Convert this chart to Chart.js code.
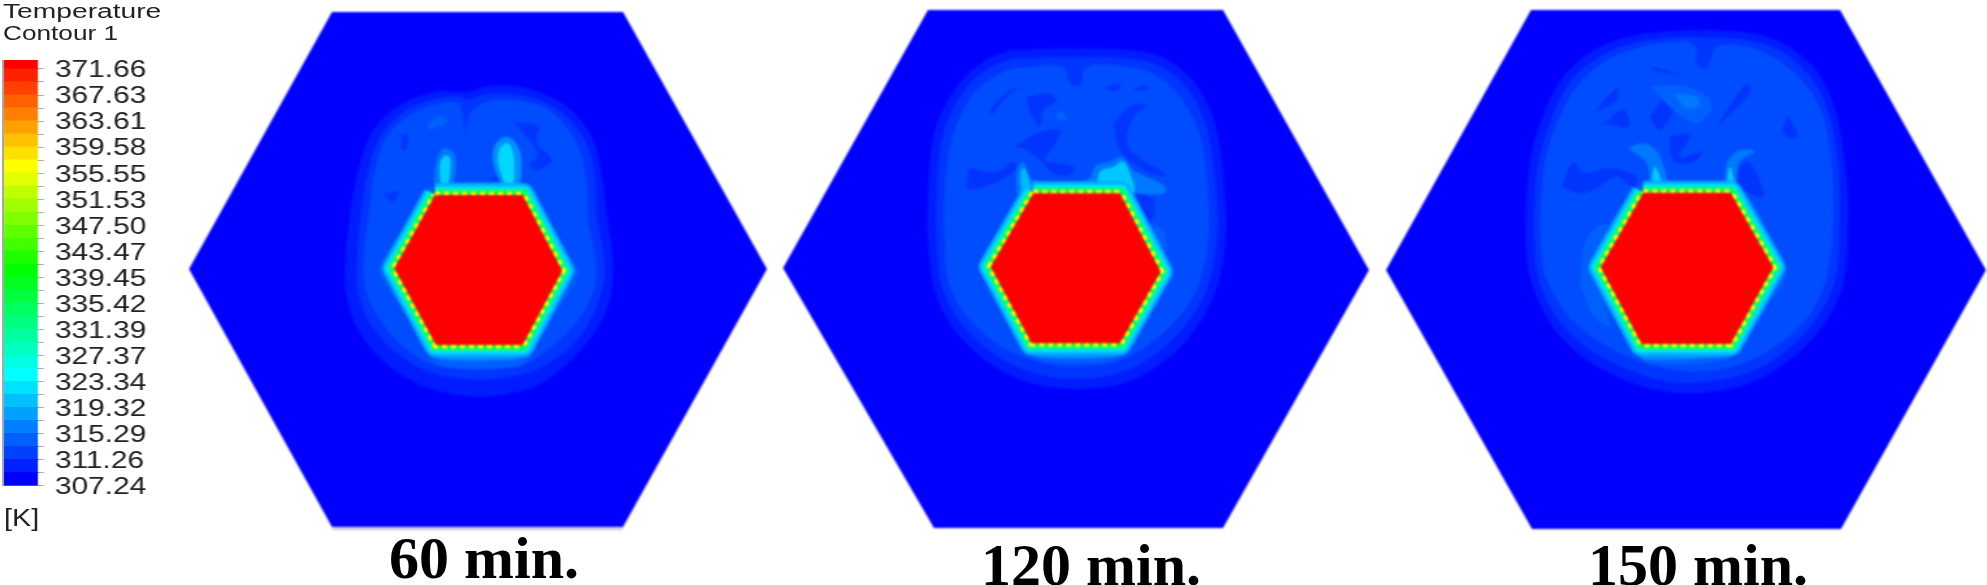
<!DOCTYPE html>
<html>
<head>
<meta charset="utf-8">
<title>Temperature contours</title>
<script src="https://cdn.jsdelivr.net/npm/chart.js"></script>
<style>
html, body { margin: 0; background: #fff; overflow: hidden; width: 1987px; height: 585px; }
canvas { position: absolute; filter: blur(0.9px); }
.txt { position: absolute; white-space: nowrap; transform-origin: left top; color: #222; filter: blur(0.4px); font-family: "Liberation Sans", sans-serif; }
.cap { position: absolute; white-space: nowrap; color: #000; font: bold 60px "Liberation Serif", serif; line-height: 60px; }
#edge { position: absolute; left: 2px; top: 60px; width: 2px; height: 426px; background: #a8a8a8; }
</style>
</head>
<body>
<canvas id="bar"></canvas>
<div id="edge"></div>
<canvas id="p60"></canvas>
<canvas id="p120"></canvas>
<canvas id="p150"></canvas>
<div class="txt" style="left:3px;top:0px;font-size:20px;transform:scaleX(1.41)">Temperature</div>
<div class="txt" style="left:3px;top:22px;font-size:20px;transform:scaleX(1.31)">Contour 1</div>
<div class="txt" style="left:4px;top:505px;font-size:23px;transform:scaleX(1.25)">[K]</div>
<div class="cap" style="left:389px;top:528px">60 min.</div>
<div class="cap" style="left:981px;top:535px">120 min.</div>
<div class="cap" style="left:1588px;top:535px">150 min.</div>

<script>
// colour bar
const tickLabels = [307.24, 311.26, 315.29, 319.32, 323.34, 327.37, 331.39, 335.42, 339.45, 343.47, 347.50, 351.53, 355.55, 359.58, 363.61, 367.63, 371.66];
const bandEdges = [307.24, 309.25, 311.26, 313.28, 315.29, 317.30, 319.32, 321.33, 323.34, 325.36, 327.37, 329.38, 331.39, 333.41, 335.42, 337.43, 339.45,
    341.46, 343.47, 345.48, 347.50, 349.51, 351.53, 353.54, 355.55, 357.56, 359.58, 361.59, 363.61, 365.62, 367.63, 369.65, 371.66, 373.05];
const bandColors = ['#0000ff', '#0020ff', '#0040ff', '#0060ff', '#0080ff', '#00a0ff', '#00c0ff', '#00e0ff', '#00ffff', '#00ffe0', '#00ffc0', '#00ffa0',
    '#00ff80', '#00ff60', '#00ff40', '#00ff20', '#00ff00', '#20ff00', '#40ff00', '#60ff00', '#80ff00', '#a0ff00', '#c0ff00', '#e0ff00',
    '#ffff00', '#ffe000', '#ffc000', '#ffa000', '#ff8000', '#ff6000', '#ff4000', '#ff2000', '#ff0000'];

// 60 min, contours
const hex60 = [[6,-204],[879,-204],[1311,567],[879,1341],[6,1341],[-423,567]];
const base60 = [[6,1347],[879,1347]];
const outer60 = [[410,38],[470,20],[560,18],[650,45],[730,95],[790,180],[815,280],[830,400],[850,570],[830,690],[770,790],[690,870],[600,925],[450,950],[300,925],[180,860],[90,760],[50,650],[45,560],[60,400],[90,250],[130,150],[210,75],[320,35]];
const middle60 = [[410,60],[460,45],[540,40],[640,65],[710,110],[770,190],[795,290],[800,400],[825,570],[800,680],[750,770],[680,835],[590,880],[450,900],[310,880],[200,820],[120,730],[85,640],[80,560],[90,420],[115,270],[150,170],[220,95],[320,55],[390,50]];
const plateau60 = [[405,170],[420,100],[470,65],[560,60],[650,85],[700,130],[745,200],[770,300],[775,420],[800,570],[775,670],[720,750],[640,820],[560,860],[330,860],[220,800],[150,720],[110,640],[100,560],[115,420],[135,270],[170,170],[240,105],[330,70],[385,70],[400,110]];
const cool60 = [
    [[215,170],[230,160],[232,200],[215,210]],
    [[550,125],[625,140],[620,190],[665,240],[620,270],[600,255],[625,225],[590,170]],
    [[160,345],[205,335],[190,365]],
    [[475,295],[520,290],[510,305]]
];
const warm60 = [[[290,135],[330,105],[352,125],[300,148]]];
const plumeOuter60 = [[315,340],[315,260],[340,205],[375,225],[372,310],[350,340]];
const plumeInner60 = [[335,340],[330,250],[348,225],[362,240],[350,340]];
const plumeRightOuter60 = [[525,340],[490,250],[495,195],[530,170],[565,200],[575,260],[560,340]];
const plumeRight60 = [[535,340],[505,250],[510,205],[535,190],[552,235],[548,340]];
const halo60 = [[350,305],[530,305],[600,320],[640,400],[720,530],[745,575],[715,640],[640,760],[600,830],[560,860],[340,860],[290,820],[225,700],[150,580],[170,520],[240,420],[290,330]];
const warmHalo60 = [[335,335],[560,335],[610,370],[710,570],[670,650],[590,815],[560,838],[330,838],[305,800],[175,580],[210,510],[280,380]];
const core60 = [[315,345],[578,345],[697,572],[578,795],[318,795],[193,565]];

// 120 min
const hex120 = [[84,-60],[969,-60],[1407,720],[969,1494],[102,1494],[-351,714]];
const outer120 = [[330,60],[520,55],[730,65],[820,100],[900,180],[950,300],[975,500],[975,650],[940,800],[860,930],[740,1030],[620,1070],[440,1070],[300,1020],[180,920],[110,800],[85,650],[85,480],[105,300],[170,170],[250,95]];
const middle120 = [[340,85],[520,80],[720,90],[810,125],[880,200],[925,310],[950,500],[950,640],[915,790],[840,905],[725,1000],[610,1040],[450,1040],[310,990],[195,895],[130,785],[110,650],[110,480],[130,310],[190,185],[265,115]];
const plateau120 = [[340,115],[490,110],[510,160],[540,165],[560,110],[710,115],[790,150],[860,230],[905,340],[925,500],[925,630],[890,780],[820,880],[700,975],[600,1005],[460,1005],[320,960],[210,870],[150,770],[135,650],[135,480],[155,330],[210,205],[280,140]];
const cool120 = [
    [[205,415],[290,425],[340,395],[345,420],[270,465],[205,475]],
    [[380,200],[440,190],[470,210],[430,240],[420,290],[390,245]],
    [[345,350],[410,310],[480,300],[460,350],[435,390],[520,410],[510,435],[460,430],[420,390],[370,355]],
    [[640,280],[690,230],[740,225],[700,260],[680,340],[720,385],[800,435],[740,425],[660,360]],
    [[270,240],[310,195],[355,170],[310,210],[275,255]],
    [[620,170],[660,160],[655,180],[625,180]],
    [[700,175],[745,168],[740,178],[705,180]],
    [[700,490],[760,510],[755,570],[720,560]]
];
const warm120 = [[[465,250],[490,245],[500,270],[475,270]]];
const plumeOuter120 = [[350,490],[350,430],[370,395],[400,450],[560,450],[590,405],[630,395],[665,380],[700,420],[790,465],[795,490],[690,490]];
const plumeInner120 = [[590,490],[600,425],[640,410],[670,395],[690,430],[700,490]];
const plumeLeft120 = [[365,490],[362,425],[375,415],[395,490]];
const halo120 = [[370,470],[680,470],[730,570],[790,600],[800,680],[810,730],[770,800],[700,930],[670,975],[620,995],[450,995],[390,975],[350,880],[260,750],[235,715],[255,670],[330,540]];
const warmHalo120 = [[410,482],[650,482],[720,540],[800,720],[760,800],[680,950],[650,980],[410,980],[375,940],[255,715],[290,640]];
const core120 = [[400,490],[660,490],[782,725],[660,940],[395,940],[272,710]];

// 150 min
const hex150 = [[93,-60],[1020,-60],[1458,720],[1023,1497],[96,1497],[-342,720]];
const outer150 = [[430,10],[600,0],[800,20],[930,100],[1000,220],[1035,400],[1045,550],[1030,760],[960,900],[840,1010],[700,1075],[500,1085],[330,1030],[190,930],[110,800],[80,680],[85,430],[120,280],[190,140],[300,50]];
const middle150 = [[430,30],[590,20],[790,40],[910,115],[980,230],[1015,400],[1020,560],[1005,750],[935,885],[820,990],[690,1045],[510,1055],[340,1000],[205,905],[130,790],[105,680],[110,430],[145,290],[210,155],[315,70]];
const plateau150 = [[440,45],[560,35],[590,55],[590,100],[620,115],[650,50],[760,55],[880,125],[960,235],[995,400],[1000,560],[980,740],[920,865],[810,960],[680,1015],[520,1020],[360,970],[225,880],[155,780],[125,680],[130,430],[165,295],[230,170],[330,85]];
const cool150 = [
    [[280,250],[350,175],[350,210],[300,240]],
    [[315,280],[370,240],[385,290]],
    [[860,255],[885,290],[890,325],[850,310]],
    [[650,290],[740,160],[750,190]],
    [[460,110],[540,135],[460,120]],
    [[450,260],[490,210],[520,240],[480,300],[460,280]],
    [[510,320],[570,315],[540,380],[610,365],[570,400],[520,390]],
    [[185,470],[220,395],[250,430],[330,415],[410,440],[400,470],[350,440],[280,480],[240,490]],
    [[710,410],[750,400],[790,500],[720,470]]
];
const warm150 = [[[450,170],[540,165],[620,200],[635,235],[590,280],[520,240],[470,190]],
    [[240,760],[255,640],[300,585],[340,600],[290,720],[330,890],[275,850]]];
const warmest150 = [[520,190],[590,200],[600,225],[560,235]];
const plumeOuter150 = [[450,490],[440,400],[390,355],[440,342],[480,380],[505,490]];
const plumeOuterRight150 = [[675,490],[680,400],[720,360],[765,365],[720,395],[705,490]];
const plumeInner150 = [[450,490],[465,410],[490,490]];
const plumeRight150 = [[675,490],[690,410],[705,490]];
const halo150 = [[420,465],[700,465],[760,520],[800,600],[860,730],[800,830],[720,950],[680,990],[450,1000],[400,950],[300,800],[260,730],[270,630],[320,590],[370,520]];
const warmHalo150 = [[440,480],[680,480],[740,530],[840,720],[800,790],[710,960],[680,980],[430,988],[405,950],[280,720],[320,640]];
const core150 = [[430,488],[692,488],[820,712],[692,942],[425,942],[302,712]];

const pts = arr => arr.concat([arr[0]]).map(p => ({ x: p[0], y: p[1] }));

function area(arr, color, tension) {
    return { data: pts(arr), backgroundColor: color, borderWidth: 0, fill: 'shape', showLine: true, pointRadius: 0, tension: tension === undefined ? 0.35 : tension };
}
function stroke(arr, color, width, join, dash) {
    return { data: pts(arr), backgroundColor: color, borderColor: color, borderWidth: width, borderDash: dash || [], borderJoinStyle: join, fill: false, showLine: true, pointRadius: 0, tension: 0 };
}

// painted bottom to top
function layers(hex, outer, middle, plateau, cool, warm, halo, plumes, warmHalo, core) {
    const list = [area(hex, '#0000ff', 0), area(outer, '#001cff'), area(middle, '#0034ff'), area(plateau, '#004cff')];
    cool.forEach(c => list.push(area(c, '#0034ff')));
    warm.forEach(c => list.push(area(c, '#0060ff')));
    list.push(area(halo, '#0060ff'));
    plumes.forEach(e => list.push(area(e[0], e[1])));
    list.push(area(warmHalo, '#0090ff', 0.2));
    list.push(stroke(core, '#00a8ff', 24, 'round'));
    list.push(stroke(core, '#00d0ff', 19, 'round'));
    list.push(stroke(core, '#00f0e8', 14, 'miter'));
    list.push(stroke(core, '#00ff60', 11, 'miter'));
    list.push(stroke(core, '#ffff00', 7, 'miter', [5, 4]));
    list.push(area(core, '#ff0000', 0));
    return list;
}

function panel(id, left, top, width, height, originX, originY, datasets) {
    const c = document.getElementById(id);
    c.width = width;
    c.height = height;
    c.style.left = left + 'px';
    c.style.top = top + 'px';
    new Chart(c, {
        type: 'scatter',
        data: { datasets: datasets.slice().reverse() },
        options: {
            responsive: false,
            animation: false,
            events: [],
            layout: { padding: 0 },
            plugins: { legend: { display: false }, tooltip: { enabled: false } },
            scales: {
                x: { type: 'linear', display: false, min: (left - originX) * 3, max: (left + width - originX) * 3 },
                y: { type: 'linear', display: false, reverse: true, min: (top - originY) * 3, max: (top + height - originY) * 3 }
            }
        }
    });
}

panel('p60', 185, 8, 586, 524, 330, 80, [stroke(base60, '#c4c4d0', 2, 'miter')].concat(layers(hex60, outer60, middle60, plateau60, cool60, warm60, halo60,
    [[plumeOuter60, '#0078ff'], [plumeInner60, '#00d0ff'], [plumeRightOuter60, '#0090ff'], [plumeRight60, '#00d8ff']], warmHalo60, core60)));
panel('p120', 779, 6, 594, 526, 900, 30, layers(hex120, outer120, middle120, plateau120, cool120, warm120, halo120,
    [[plumeOuter120, '#0078ff'], [plumeInner120, '#00c8ff'], [plumeLeft120, '#00b8ff']], warmHalo120, core120));
panel('p150', 1382, 6, 605, 527, 1500, 30, layers(hex150, outer150, middle150, plateau150, cool150, warm150, halo150,
    [[warmest150, '#0078ff'], [plumeOuter150, '#0078ff'], [plumeOuterRight150, '#0078ff'], [plumeInner150, '#00c8ff'], [plumeRight150, '#00c8ff']], warmHalo150, core150));

// colour bar: canvas is stretched sideways afterwards, the original has wide digits
const bar = document.getElementById('bar');
bar.width = 116;
bar.height = 520;
bar.style.left = '0px';
bar.style.top = '0px';
bar.style.transformOrigin = 'left top';
bar.style.transform = 'scaleX(1.3)';
bar.style.filter = 'blur(0.5px)';

new Chart(bar, {
    type: 'bar',
    data: {
        labels: ['T'],
        datasets: bandColors.map((col, i) => ({
            data: [[bandEdges[i], bandEdges[i + 1]]],
            backgroundColor: col,
            borderWidth: 0,
            inflateAmount: 0.6,
            barPercentage: 1,
            categoryPercentage: 1,
            grouped: false
        }))
    },
    options: {
        responsive: false,
        animation: false,
        events: [],
        layout: { padding: { left: 2.5, right: 0, top: 60, bottom: 34.3 } },
        plugins: { legend: { display: false }, tooltip: { enabled: false } },
        scales: {
            x: { display: false },
            y: {
                position: 'right',
                min: 307.24,
                max: 373.05,
                afterFit: axis => { axis.width = 86.8; },
                afterBuildTicks: axis => {
                    axis.ticks = bandEdges.slice(0, 33).map(v => ({ value: v }));
                },
                border: { display: false },
                grid: { drawOnChartArea: false, drawTicks: true, tickLength: 4.5, color: '#aaa' },
                ticks: {
                    autoSkip: false,
                    padding: 8.5,
                    labelOffset: 2,
                    color: '#222',
                    font: { family: 'Liberation Sans', size: 23 },
                    callback: v => tickLabels.includes(v) ? v.toFixed(2) : ''
                }
            }
        }
    }
});
</script>
</body>
</html>
